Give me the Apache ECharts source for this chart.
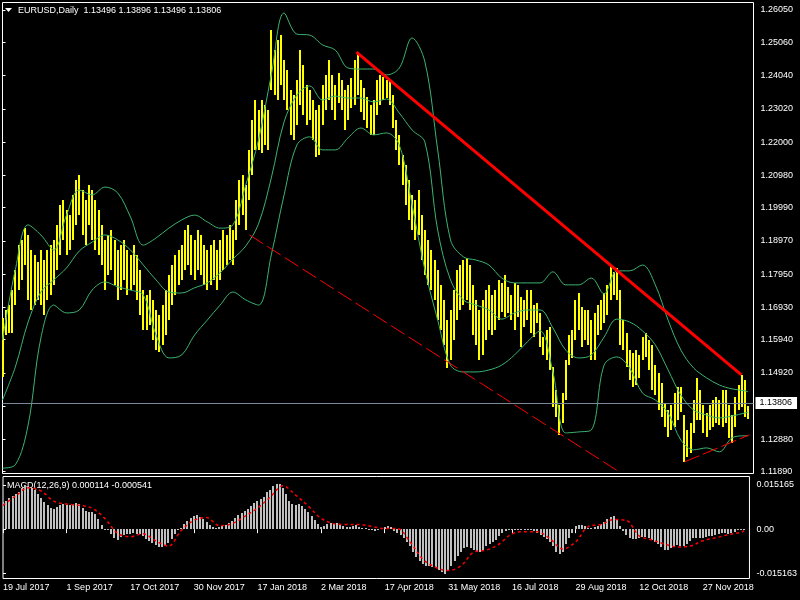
<!DOCTYPE html>
<html><head><meta charset="utf-8">
<script src="https://cdn.jsdelivr.net/npm/echarts@6/dist/echarts.min.js"></script>
<style>html,body{margin:0;padding:0;background:#000;}#c{width:800px;height:600px;}</style>
</head><body><div id="c"></div>
<script>
const symbolName = 'EURUSD', timeframe = 'Daily';
const lastOHLC = [1.13496, 1.13896, 1.13496, 1.13806];
const highs = [
1.1661,1.1685,1.1701,1.1746,1.1808,1.1884,1.1900,1.1937,1.1915,1.1869,
1.1854,1.1832,1.1869,1.1838,1.1869,1.1884,1.1900,1.1946,1.2007,1.2022,
1.1992,1.1976,1.2038,1.2084,1.2099,1.2053,1.2022,1.2068,1.2053,1.2022,
1.1992,1.1946,1.1900,1.1915,1.1930,1.1900,1.1869,1.1884,1.1900,1.1869,
1.1854,1.1884,1.1854,1.1808,1.1746,1.1731,1.1746,1.1716,1.1685,1.1670,
1.1701,1.1746,1.1793,1.1823,1.1854,1.1869,1.1884,1.1930,1.1946,1.1915,
1.1900,1.1930,1.1915,1.1884,1.1869,1.1884,1.1900,1.1869,1.1900,1.1930,
1.1915,1.1946,1.1930,1.2022,1.2084,1.2099,1.2068,1.2176,1.2268,1.2329,
1.2298,1.2329,1.2314,1.2298,1.2544,1.2482,1.2513,1.2528,1.2452,1.2421,
1.2360,1.2344,1.2390,1.2482,1.2436,1.2375,1.2360,1.2329,1.2298,1.2314,
1.2375,1.2406,1.2452,1.2406,1.2375,1.2412,1.2390,1.2360,1.2375,1.2397,
1.2452,1.2476,1.2390,1.2366,1.2338,1.2314,1.2329,1.2390,1.2406,1.2400,
1.2390,1.2390,1.2344,1.2268,1.2222,1.2160,1.2130,1.2084,1.2038,1.2022,
1.2053,1.1976,1.1930,1.1900,1.1869,1.1838,1.1808,1.1762,1.1716,1.1654,
1.1685,1.1746,1.1808,1.1823,1.1838,1.1845,1.1823,1.1762,1.1716,1.1685,
1.1716,1.1746,1.1762,1.1731,1.1746,1.1777,1.1768,1.1793,1.1756,1.1731,
1.1768,1.1762,1.1725,1.1716,1.1746,1.1746,1.1701,1.1707,1.1676,1.1602,
1.1624,1.1633,1.1510,1.1440,1.1394,1.1431,1.1532,1.1609,1.1624,1.1716,
1.1737,1.1694,1.1685,1.1685,1.1654,1.1676,1.1701,1.1716,1.1737,1.1762,
1.1823,1.1802,1.1814,1.1746,1.1654,1.1615,1.1562,1.1553,1.1562,1.1547,
1.1602,1.1615,1.1593,1.1578,1.1517,1.1492,1.1461,1.1400,1.1378,1.1394,
1.1431,1.1449,1.1449,1.1363,1.1317,1.1339,1.1409,1.1477,1.1440,1.1394,
1.1369,1.1394,1.1409,1.1418,1.1409,1.1440,1.1440,1.1394,1.1363,1.1418,
1.1455,1.1486,1.1470,1.13896];
const lows = [
1.1480,1.1609,1.1615,1.1615,1.1701,1.1746,1.1777,1.1823,1.1716,1.1685,
1.1701,1.1716,1.1701,1.1670,1.1716,1.1731,1.1762,1.1808,1.1854,1.1900,
1.1854,1.1869,1.1900,1.1946,1.1976,1.1915,1.1884,1.1946,1.1900,1.1869,
1.1854,1.1823,1.1746,1.1793,1.1808,1.1762,1.1716,1.1746,1.1777,1.1731,
1.1746,1.1762,1.1716,1.1670,1.1624,1.1624,1.1639,1.1593,1.1562,1.1556,
1.1578,1.1609,1.1654,1.1701,1.1731,1.1762,1.1777,1.1808,1.1823,1.1793,
1.1777,1.1808,1.1793,1.1762,1.1746,1.1762,1.1777,1.1746,1.1777,1.1808,
1.1823,1.1838,1.1823,1.1900,1.1946,1.1976,1.1930,1.2022,1.2099,1.2176,
1.2176,1.2167,1.2191,1.2176,1.2360,1.2344,1.2329,1.2375,1.2329,1.2298,
1.2222,1.2206,1.2252,1.2314,1.2283,1.2252,1.2268,1.2206,1.2154,1.2160,
1.2252,1.2298,1.2329,1.2298,1.2268,1.2320,1.2298,1.2237,1.2268,1.2305,
1.2314,1.2344,1.2292,1.2268,1.2243,1.2222,1.2222,1.2283,1.2314,1.2329,
1.2335,1.2314,1.2243,1.2176,1.2130,1.2068,1.2007,1.1961,1.1930,1.1900,
1.1915,1.1838,1.1793,1.1762,1.1746,1.1716,1.1654,1.1624,1.1578,1.1507,
1.1532,1.1593,1.1654,1.1685,1.1701,1.1716,1.1685,1.1609,1.1578,1.1532,
1.1547,1.1593,1.1624,1.1609,1.1624,1.1654,1.1679,1.1664,1.1676,1.1654,
1.1624,1.1664,1.1572,1.1633,1.1654,1.1615,1.1602,1.1645,1.1572,1.1547,
1.1532,1.1501,1.1388,1.1357,1.1302,1.1339,1.1409,1.1517,1.1538,1.1593,
1.1624,1.1572,1.1593,1.1578,1.1532,1.1532,1.1609,1.1624,1.1645,1.1670,
1.1716,1.1731,1.1716,1.1578,1.1562,1.1510,1.1470,1.1449,1.1455,1.1477,
1.1532,1.1541,1.1501,1.1440,1.1425,1.1378,1.1357,1.1326,1.1296,1.1317,
1.1326,1.1348,1.1372,1.1219,1.1234,1.1247,1.1308,1.1348,1.1348,1.1308,
1.1296,1.1317,1.1326,1.1339,1.1333,1.1326,1.1339,1.1293,1.1277,1.1326,
1.1378,1.1388,1.1357,1.13496];

// Bollinger Bands (20,2) read every 4 bars; last value is the final bar
const bandStep = 4;
const bbUpper = [
1.1593,1.1808,1.1946,1.1915,1.1869,1.1976,1.2053,1.2038,1.2062,1.2044,
1.1970,1.1884,1.1906,1.1936,1.1961,1.1976,1.1955,1.1936,1.1946,1.2068,
1.2206,1.2406,1.2596,1.2531,1.2528,1.2498,1.2482,1.2427,1.2424,1.2424,
1.2406,1.2427,1.2519,1.2446,1.2176,1.1900,1.1848,1.1838,1.1823,1.1783,
1.1768,1.1768,1.1768,1.1802,1.1762,1.1762,1.1783,1.1734,1.1805,1.1805,
1.1823,1.1762,1.1654,1.1562,1.1507,1.1477,1.1455,1.1443,1.1437,1.1434];
const bbMiddle = [
1.1409,1.1510,1.1648,1.1740,1.1777,1.1814,1.1866,1.1893,1.1915,1.1900,
1.1869,1.1823,1.1777,1.1740,1.1737,1.1753,1.1768,1.1799,1.1841,1.1881,
1.1949,1.2090,1.2262,1.2344,1.2372,1.2329,1.2341,1.2335,1.2335,1.2323,
1.2332,1.2289,1.2237,1.2200,1.1930,1.1777,1.1716,1.1700,1.1685,1.1657,
1.1676,1.1685,1.1685,1.1630,1.1562,1.1538,1.1547,1.1602,1.1657,1.1648,
1.1621,1.1578,1.1501,1.1424,1.1378,1.1363,1.1354,1.1360,1.1369,1.1372];
const bbLower = [
1.1200,1.1210,1.1332,1.1599,1.1700,1.1676,1.1685,1.1746,1.1771,1.1756,
1.1746,1.1731,1.1608,1.1538,1.1547,1.1608,1.1654,1.1700,1.1740,1.1716,
1.1700,1.1854,1.2038,1.2191,1.2216,1.2176,1.2176,1.2213,1.2243,1.2222,
1.2228,1.2191,1.2007,1.1808,1.1654,1.1516,1.1495,1.1495,1.1501,1.1516,
1.1547,1.1587,1.1621,1.1495,1.1308,1.1311,1.1317,1.1516,1.1541,1.1507,
1.1430,1.1409,1.1369,1.1286,1.1256,1.1262,1.1250,1.1293,1.1299,1.1299];

// MACD(12,26,9)
const macdMain = [
0.0094,0.0098,0.0108,0.0115,0.0122,0.0129,0.0140,0.0150,0.0147,0.0143,
0.0133,0.0122,0.0108,0.0094,0.0084,0.0073,0.0070,0.0077,0.0084,0.0087,
0.0084,0.0084,0.0087,0.0091,0.0087,0.0073,0.0063,0.0059,0.0059,0.0052,
0.0035,0.0014,0.0000,-0.0003,-0.0017,-0.0031,-0.0038,-0.0028,-0.0021,-0.0017,
-0.0017,-0.0014,-0.0017,-0.0017,-0.0024,-0.0035,-0.0042,-0.0049,-0.0056,-0.0063,
-0.0063,-0.0059,-0.0049,-0.0035,-0.0017,-0.0003,0.0003,0.0017,0.0028,0.0038,
0.0045,0.0049,0.0042,0.0035,0.0024,0.0014,0.0007,0.0003,0.0007,0.0010,
0.0014,0.0021,0.0028,0.0038,0.0049,0.0056,0.0063,0.0070,0.0080,0.0091,
0.0098,0.0105,0.0112,0.0126,0.0136,0.0147,0.0154,0.0154,0.0143,0.0122,
0.0098,0.0087,0.0084,0.0087,0.0080,0.0070,0.0059,0.0045,0.0031,0.0017,
0.0007,0.0010,0.0017,0.0021,0.0017,0.0021,0.0017,0.0010,0.0007,0.0007,
0.0010,0.0014,0.0007,0.0003,0.0003,0.0000,-0.0003,-0.0007,-0.0003,0.0003,
0.0007,0.0010,0.0007,-0.0007,-0.0014,-0.0021,-0.0031,-0.0045,-0.0059,-0.0077,
-0.0094,-0.0108,-0.0119,-0.0126,-0.0126,-0.0129,-0.0133,-0.0140,-0.0147,-0.0154,
-0.0140,-0.0126,-0.0108,-0.0091,-0.0077,-0.0066,-0.0063,-0.0066,-0.0073,-0.0080,
-0.0077,-0.0070,-0.0059,-0.0052,-0.0045,-0.0038,-0.0024,-0.0014,-0.0007,-0.0003,
-0.0003,0.0000,-0.0003,-0.0003,0.0000,-0.0003,-0.0003,-0.0007,-0.0014,-0.0021,
-0.0028,-0.0035,-0.0045,-0.0059,-0.0077,-0.0087,-0.0077,-0.0052,-0.0031,-0.0014,
0.0010,0.0014,0.0014,0.0010,0.0003,0.0003,0.0007,0.0010,0.0017,0.0024,
0.0035,0.0042,0.0045,0.0031,0.0010,-0.0007,-0.0021,-0.0031,-0.0035,-0.0035,
-0.0031,-0.0028,-0.0028,-0.0031,-0.0038,-0.0045,-0.0052,-0.0063,-0.0070,-0.0073,
-0.0066,-0.0059,-0.0056,-0.0059,-0.0059,-0.0052,-0.0042,-0.0031,-0.0031,-0.0031,
-0.0031,-0.0028,-0.0024,-0.0024,-0.0021,-0.0017,-0.0014,-0.0014,-0.0017,-0.0014,
-0.0010,-0.0003,-0.0001,0.000114];
const macdSignal = [
0.0082,0.0114,0.0142,0.0131,0.0096,0.0086,0.0082,0.0072,0.0037,-0.0014,
-0.0026,-0.0016,-0.0040,-0.0058,-0.0005,0.0030,0.0040,0.0012,0.0019,0.0044,
0.0072,0.0110,0.0149,0.0117,0.0079,0.0037,0.0019,0.0016,0.0016,0.0009,
0.0002,0.0002,-0.0044,-0.0103,-0.0131,-0.0142,-0.0126,-0.0079,-0.0072,-0.0051,
-0.0016,-0.0009,-0.0009,-0.0033,-0.0068,-0.0044,0.0009,0.0016,0.0033,0.0030,
-0.0023,-0.0037,-0.0051,-0.0061,-0.0058,-0.0040,-0.0030,-0.0019,-0.0011,-0.000541];
const macdLast = [0.000114, -0.000541];

const priceTicks = [1.26050,1.25060,1.24040,1.23020,1.22000,1.20980,1.19990,1.18970,1.17950,1.16930,1.15940,1.14920,1.13900,1.12880,1.11890];
const macdTicks = [0.015165, 0, -0.015163];
const dateLabels = ['19 Jul 2017','1 Sep 2017','17 Oct 2017','30 Nov 2017','17 Jan 2018','2 Mar 2018','17 Apr 2018','31 May 2018','16 Jul 2018','29 Aug 2018','12 Oct 2018','27 Nov 2018'];
const dateLabelStep = 20;

// trend lines: [barIndex, price]
const trendSolid = [[110.6, 1.2476], [230.9, 1.1486]];
const trendDash  = [[77.2, 1.1915], [192.8, 1.1188]];
const trendLow   = [[213.1, 1.1219], [233.4, 1.1302]];

const N = highs.length;
const bIdx = k => Math.min(k * bandStep, N - 1);
const bandData = arr => arr.map((v, k) => [bIdx(k), v]);
const dateTickVals = dateLabels.map((d, k) => k * dateLabelStep);

const FONT = 'Liberation Sans';
const chart = echarts.init(document.getElementById('c'), null, {renderer: 'canvas'});
const XMAX = 751 / 3.2;

chart.setOption({
  animation: false,
  backgroundColor: '#000',
  grid: [
    {left: 2.5, top: 2.5, width: 751, height: 471, show: true, borderColor: '#fff', borderWidth: 1, backgroundColor: '#000'},
    {left: 2.5, top: 476.5, width: 751, height: 102, show: true, borderColor: '#fff', borderWidth: 1, backgroundColor: '#000'}
  ],
  xAxis: [
    {type: 'value', gridIndex: 0, min: 0, max: XMAX, show: false},
    {type: 'value', gridIndex: 1, min: 0, max: XMAX, position: 'bottom',
     axisLine: {show: false}, splitLine: {show: false},
     axisTick: {show: true, customValues: dateTickVals, length: 4, lineStyle: {color: '#fff'}},
     axisLabel: {show: true, customValues: dateTickVals, align: 'left', margin: 5, color: '#fff', fontFamily: FONT, fontSize: 9,
       formatter: v => dateLabels[Math.round(v / dateLabelStep)]}}
  ],
  yAxis: [
    {type: 'value', gridIndex: 0, position: 'right', min: 1.11835, max: 1.26280, scale: true,
     axisLine: {show: false}, splitLine: {show: false},
     axisTick: {show: true, customValues: priceTicks, length: 3, lineStyle: {color: '#fff'}},
     axisLabel: {show: true, customValues: priceTicks, margin: 7, color: '#fff', fontFamily: FONT, fontSize: 9,
       formatter: v => v.toFixed(5)}},
    {type: 'value', gridIndex: 1, position: 'right', min: -0.016949, max: 0.018085,
     axisLine: {show: false}, splitLine: {show: false},
     axisTick: {show: true, customValues: macdTicks, length: 3, lineStyle: {color: '#fff'}},
     axisLabel: {show: true, customValues: macdTicks, margin: 7, color: '#fff', fontFamily: FONT, fontSize: 9,
       formatter: v => v === 0 ? '0.00' : v.toFixed(6)}}
  ],
  series: [
    {type: 'custom', name: 'bars', xAxisIndex: 0, yAxisIndex: 0, clip: true, z: 2,
     data: highs.map((h, i) => [i, h, lows[i]]),
     encode: {x: 0, y: [1, 2]},
     renderItem: (params, api) => {
       const i = api.value(0);
       const top = api.coord([i, api.value(1)]);
       const bot = api.coord([i, api.value(2)]);
       const x = Math.round(top[0]);
       return {type: 'rect', shape: {x: x - 1, y: Math.round(top[1]), width: 2, height: Math.max(1, Math.round(bot[1] - top[1]))},
               style: {fill: '#ffff00'}};
     },
     markLine: {silent: true, symbol: ['none', 'none'], z: 5,
       lineStyle: {color: '#778899', width: 1, type: 'solid'},
       label: {show: true, position: 'end', distance: 2, formatter: () => lastOHLC[3].toFixed(5),
         backgroundColor: '#fff', color: '#000', padding: [2, 5, 1, 4], fontFamily: FONT, fontSize: 9},
       data: [{yAxis: lastOHLC[3]}]}
    },
    {type: 'line', name: 'BB upper', xAxisIndex: 0, yAxisIndex: 0, data: bandData(bbUpper), smooth: 0.35, showSymbol: false, z: 3,
     lineStyle: {color: '#3cb371', width: 1}},
    {type: 'line', name: 'BB middle', xAxisIndex: 0, yAxisIndex: 0, data: bandData(bbMiddle), smooth: 0.35, showSymbol: false, z: 3,
     lineStyle: {color: '#3cb371', width: 1}},
    {type: 'line', name: 'BB lower', xAxisIndex: 0, yAxisIndex: 0, data: bandData(bbLower), smooth: 0.35, showSymbol: false, z: 3,
     lineStyle: {color: '#3cb371', width: 1}},
    {type: 'line', name: 'trend', xAxisIndex: 0, yAxisIndex: 0, data: trendSolid, showSymbol: false, z: 6,
     lineStyle: {color: '#ff0000', width: 3}},
    {type: 'line', name: 'trend2', xAxisIndex: 0, yAxisIndex: 0, data: trendDash, showSymbol: false, z: 6,
     lineStyle: {color: '#ff0000', width: 1, type: [16, 5]}},
    {type: 'line', name: 'trend3', xAxisIndex: 0, yAxisIndex: 0, data: trendLow, showSymbol: false, z: 6,
     lineStyle: {color: '#ff0000', width: 1, type: [16, 4]}},
    {type: 'custom', name: 'MACD', xAxisIndex: 1, yAxisIndex: 1, clip: true,
     data: macdMain.map((v, i) => [i, v]),
     encode: {x: 0, y: 1},
     renderItem: (params, api) => {
       const i = api.value(0);
       const p0 = api.coord([i, 0]);
       const p1 = api.coord([i, api.value(1)]);
       const x = Math.round(p0[0]);
       const y0 = Math.round(p0[1]), y1 = Math.round(p1[1]);
       return {type: 'rect', shape: {x: x - 1, y: Math.min(y0, y1), width: 2, height: Math.max(1, Math.abs(y1 - y0))},
               style: {fill: '#c0c0c0'}};
     }},
    {type: 'line', name: 'Signal', xAxisIndex: 1, yAxisIndex: 1, data: bandData(macdSignal), smooth: 0.35, showSymbol: false, z: 4,
     lineStyle: {color: '#ff0000', width: 1.5, type: [3, 3]}}
  ],
  graphic: [
    {type: 'polygon', shape: {points: [[5, 8], [12, 8], [8.5, 12]]}, style: {fill: '#fff'}},
    {type: 'text', x: 18, y: 11, style: {text: symbolName + ',' + timeframe + '  ' + lastOHLC.map(v => v.toFixed(5)).join(' '),
      fill: '#fff', font: '9px "' + FONT + '"', verticalAlign: 'middle'}},
    {type: 'text', x: 7, y: 486, style: {text: 'MACD(12,26,9) ' + macdLast[0].toFixed(6) + ' ' + macdLast[1].toFixed(6),
      fill: '#fff', font: '9px "' + FONT + '"', verticalAlign: 'middle'}}
  ]
});
</script></body></html>
